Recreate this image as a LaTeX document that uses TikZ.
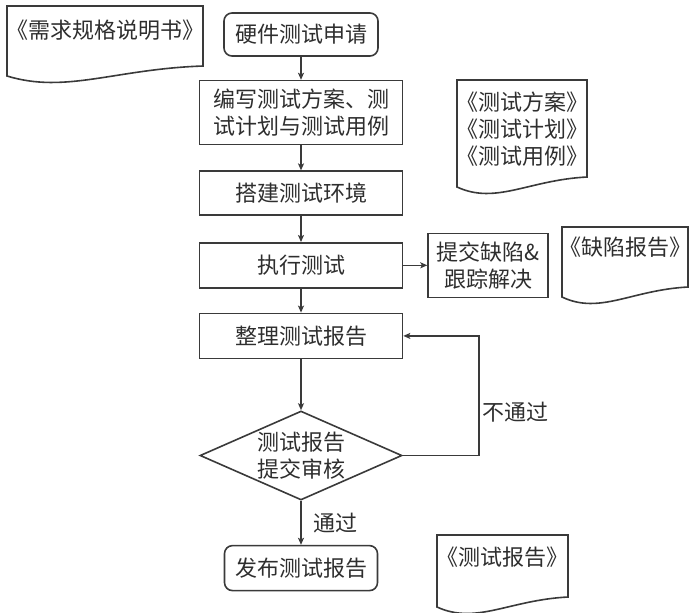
\documentclass[tikz,border=0pt]{standalone}
\usepackage{fontspec}
\setmainfont{Noto Sans CJK SC}
\usetikzlibrary{arrows.meta,shapes.geometric,positioning}
\definecolor{linegray}{HTML}{3A3A3A}
\definecolor{textgray}{HTML}{2E2E2E}

\newcommand\docshape[4]{%
  \begin{scope}[shift={(#1,#2)}]
    \draw [docline] (0,#4) -- (0,0) -- (#3,0) -- (#3,#4-10)
      .. controls (0.55*#3,#4-7) and (0.3*#3,#4+18) .. (0,#4) -- cycle;
  \end{scope}}

\begin{document}
\begin{tikzpicture}[x=0.5pt,y=-0.5pt,
    font=\fontsize{11}{13.5}\selectfont, text=textgray,
    box/.style={draw=linegray, line width=0.8pt, minimum width=101.5pt,
      minimum height=22.5pt, inner sep=2pt, align=center},
    term/.style={box, rounded corners=4pt, minimum width=77pt},
    decision/.style={diamond, draw=linegray, line width=0.8pt, aspect=2.27,
      minimum width=101pt, minimum height=44.5pt, inner sep=0pt, align=center},
    docline/.style={draw=linegray, line width=0.8pt},
    doctext/.style={align=center, inner sep=0pt},
    flow/.style={draw=linegray, line width=0.8pt,
      -{Stealth[length=3.5pt,width=3pt,inset=0.8pt]}}]
    \useasboundingbox (0,0) rectangle (696,612);

    \node [term, minimum height=21.5pt] (start) at (301,34.5) {硬件测试申请};
    \node [box, minimum height=32pt, below=11.5pt of start] (plan)
    {编写测试方案、测\\试计划与测试用例};
    \node [box, minimum height=22pt, below=12.5pt of plan] (env) {搭建测试环境};
    \node [box, below=13pt of env] (exec) {执行测试};
    \node [box, minimum width=60pt, minimum height=32pt, right=12pt of exec] (defect)
    {提交缺陷\&\\跟踪解决};
    \node [box, below=12pt of exec] (report) {整理测试报告};
    \node [decision, below=25.5pt of report] (review) {测试报告\\提交审核};
    \node [term, minimum width=76.5pt, below=22pt of review] (publish) {发布测试报告};
    \coordinate [right=38pt of review.east] (back);

    \draw [flow] (start) -- (plan);
    \draw [flow] (plan) -- (env);
    \draw [flow] (env) -- (exec);
    \draw [flow] (exec) -- (defect);
    \draw [flow] (exec) -- (report);
    \draw [flow] (report) -- (review);
    \draw [flow] (review) -- node [right=2.5pt] {通过} (publish);
    \draw [flow] (review.east) -- (back)
    |- node [pos=0.18, right, inner sep=1.5pt] {不通过} (report.east);

    % documents
    \docshape{7}{6}{196}{70}
    \docshape{457}{80}{130}{107}
    \docshape{562}{227}{126}{70}
    \docshape{437}{535}{131}{72}
    \node [doctext] (srs) at (105,30) {《需求规格说明书》};
    \node [doctext] (plandoc) at (522,129) {《测试方案》\\《测试计划》\\《测试用例》};
    \node [doctext] (defectdoc) at (625,247) {《缺陷报告》};
    \node [doctext] (reportdoc) at (502.5,557) {《测试报告》};
\end{tikzpicture}
\end{document}
